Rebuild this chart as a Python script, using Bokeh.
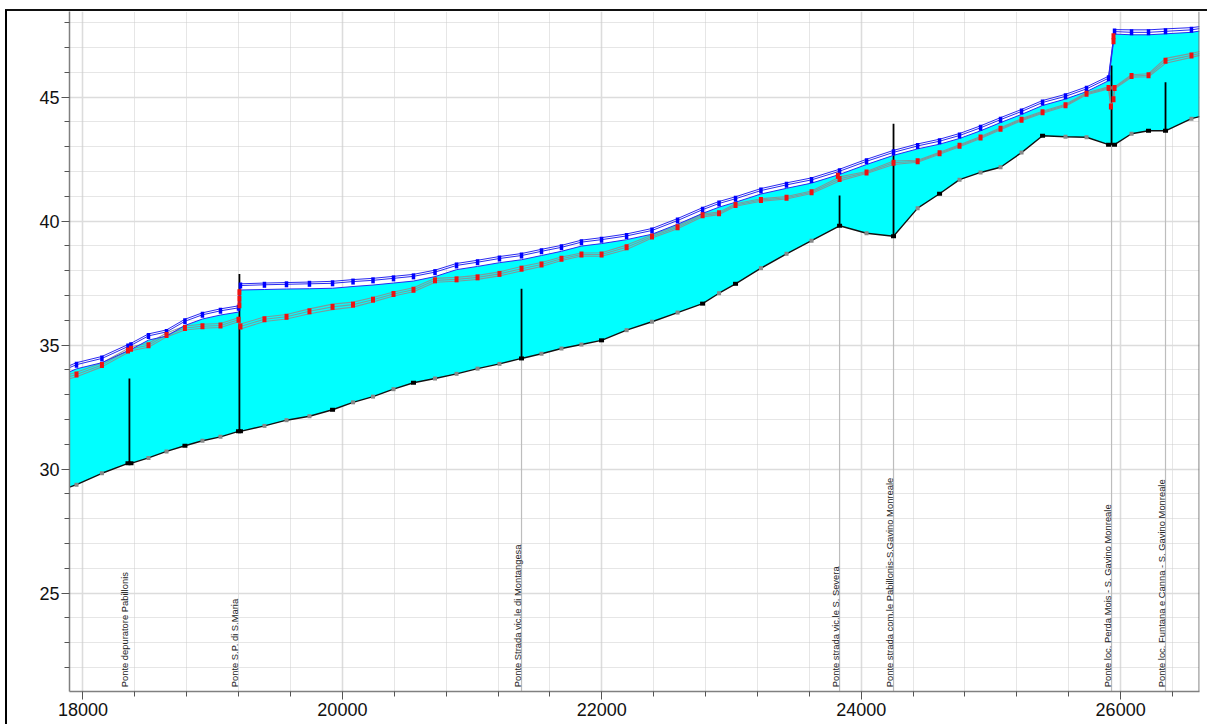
import math
from bokeh.plotting import figure
from bokeh.models import FixedTicker, Range1d, Span
from bokeh.core.properties import value
from bokeh.embed import file_html
from bokeh.resources import INLINE

stations = [17896,17950,18146,18347,18370,18505,18644,18786,18921,19060,19199,19214,19399,19569,19746,19924,20082,20236,20394,20548,20714,20880,21042,21211,21381,21535,21689,21843,21998,22191,22387,22584,22777,22904,23031,23227,23424,23617,23833,24041,24249,24435,24604,24758,24920,25074,25236,25398,25575,25737,25907,25953,26084,26215,26346,26546,26608]
bed = [29.27,29.37,29.83,30.23,30.23,30.45,30.71,30.94,31.14,31.30,31.52,31.52,31.74,31.97,32.13,32.39,32.69,32.92,33.22,33.48,33.65,33.84,34.05,34.24,34.46,34.65,34.86,35.02,35.19,35.60,35.94,36.31,36.67,37.09,37.47,38.10,38.68,39.21,39.81,39.51,39.39,40.52,41.10,41.67,41.96,42.17,42.76,43.44,43.40,43.38,43.08,43.08,43.52,43.64,43.64,44.13,44.21]
blue_mid = [34.09,34.21,34.46,34.94,34.99,35.37,35.53,35.96,36.22,36.38,36.50,37.40,37.43,37.45,37.47,37.49,37.56,37.61,37.69,37.77,37.94,38.21,38.34,38.49,38.61,38.78,38.94,39.15,39.25,39.40,39.62,40.02,40.46,40.71,40.90,41.23,41.46,41.66,42.01,42.41,42.77,43.03,43.22,43.45,43.76,44.09,44.42,44.78,45.03,45.33,45.76,47.64,47.61,47.61,47.65,47.71,47.76]
blue_upper = [34.17,34.29,34.54,35.02,35.07,35.45,35.61,36.04,36.30,36.46,36.58,37.47,37.50,37.52,37.54,37.57,37.64,37.69,37.77,37.85,38.02,38.29,38.42,38.57,38.69,38.86,39.02,39.23,39.33,39.48,39.70,40.10,40.54,40.79,40.98,41.31,41.54,41.74,42.09,42.49,42.85,43.11,43.30,43.53,43.84,44.17,44.50,44.86,45.11,45.41,45.84,47.72,47.71,47.71,47.75,47.80,47.84]
blue_lower = [33.92,34.04,34.29,34.77,34.82,35.20,35.36,35.79,36.05,36.21,36.33,37.22,37.24,37.26,37.27,37.29,37.36,37.42,37.50,37.58,37.76,38.04,38.17,38.32,38.44,38.61,38.78,38.99,39.09,39.25,39.47,39.87,40.31,40.56,40.76,41.09,41.32,41.53,41.88,42.28,42.65,42.91,43.10,43.33,43.64,43.97,44.30,44.66,44.92,45.22,45.66,47.54,47.51,47.51,47.55,47.61,47.66]
red_mid = [33.73,33.81,34.20,34.78,34.85,34.99,35.41,35.69,35.76,35.79,36.02,35.75,36.04,36.14,36.36,36.54,36.63,36.83,37.06,37.23,37.61,37.65,37.73,37.87,38.08,38.25,38.48,38.65,38.65,38.94,39.38,39.75,40.23,40.31,40.65,40.85,40.94,41.16,41.70,41.96,42.35,42.41,42.73,43.04,43.37,43.72,44.09,44.39,44.67,45.13,45.37,45.37,45.85,45.88,46.46,46.68,46.76]
red_upper = [33.82,33.90,34.28,34.86,34.93,35.07,35.49,35.77,35.84,35.87,36.10,35.85,36.13,36.23,36.46,36.65,36.73,36.92,37.14,37.31,37.69,37.73,37.81,37.95,38.17,38.33,38.55,38.71,38.72,39.03,39.44,39.81,40.29,40.36,40.70,40.90,40.99,41.21,41.78,42.00,42.42,42.45,42.77,43.08,43.41,43.76,44.13,44.43,44.71,45.17,45.41,45.41,45.90,45.94,46.56,46.76,46.84]
red_lower = [33.64,33.72,34.12,34.70,34.77,34.91,35.33,35.61,35.68,35.71,35.94,35.65,35.95,36.05,36.26,36.43,36.53,36.74,36.98,37.15,37.53,37.57,37.65,37.79,37.99,38.17,38.41,38.59,38.58,38.85,39.32,39.69,40.17,40.26,40.60,40.80,40.89,41.11,41.62,41.92,42.28,42.37,42.69,43.00,43.33,43.68,44.05,44.35,44.63,45.09,45.33,45.33,45.80,45.82,46.36,46.60,46.68]

# extra red points on the bridge jumps
red_extra_x = [19206,19206,19206,23820,25925,25945,25945,25945]
red_extra_y = [37.13,36.87,36.60,41.83,44.62,44.91,47.25,47.45]
red_dip_x = [25907,25925,25945,25953]
red_dip_y = [45.37,44.62,44.91,45.37]

# stations whose bed marker is black (the rest are grey)
bed_black = [18347,18370,18786,19199,19214,19924,20548,21381,21998,22777,23031,23833,24249,24604,25398,25907,25953,26215,26346]

bridge_x = [18358,19206,21381,23833,24249,25930,26346]
bridge_bed = [30.23,31.52,34.46,39.81,39.39,43.08,43.64]
bridge_top = [33.65,37.87,37.27,41.03,43.92,46.27,45.60]
bridge_names = ["Ponte depuratore Pabillonis","Ponte S.P. di S.Maria","Ponte Strada vic.le di Montangesa","Ponte strada vic.le S. Severa","Ponte strada com.le Pabillonis-S.Gavino Monreale","Ponte loc. Perda Mois - S. Gavino Monreale","Ponte loc. Funtana e Canna - S. Gavino Monreale"]

x_major = [18000,20000,22000,24000,26000]
x_minor = [18400,18800,19200,19600,20400,20800,21200,21600,22400,22800,23200,23600,24400,24800,25200,25600,26400]
y_major = [25,30,35,40,45]
y_minor = [22,23,24,26,27,28,29,31,32,33,34,36,37,38,39,41,42,43,44,46,47,48]

X0, X1, Y0, Y1 = 17896, 26608, 21.03, 48.45
FONT = "Liberation Sans"

frame_css = ("linear-gradient(#000,#000) 5px 10px / 2px 714px no-repeat, "
             "linear-gradient(#111,#111) 5px 9px / 1202px 2px no-repeat")

p = figure(width=1207, height=724, output_backend="svg", toolbar_location=None,
           x_range=Range1d(X0, X1), y_range=Range1d(Y0, Y1),
           min_border_left=69, min_border_right=8, min_border_top=11, min_border_bottom=33,
           background_fill_color="white", border_fill_color=None,
           outline_line_color=None, styles={"background": frame_css})
p.toolbar.logo = None

for ax, maj, mnr in ((p.xaxis[0], x_major, x_minor), (p.yaxis[0], y_major, y_minor)):
    ax.ticker = FixedTicker(ticks=maj, minor_ticks=mnr)
    ax.axis_line_color = "#808080"
    ax.axis_line_width = 1.5
    ax.major_tick_line_color = "#555555"
    ax.minor_tick_line_color = "#555555"
    ax.major_tick_out = 8
    ax.major_tick_in = 0
    ax.minor_tick_out = 5
    ax.minor_tick_in = 0
    ax.major_label_text_font = FONT
    ax.major_label_text_font_size = "18px"
    ax.major_label_text_color = "#111111"
    ax.major_label_standoff = 3
p.xaxis[0].formatter.use_scientific = False
p.yaxis[0].major_label_orientation = "horizontal"
p.yaxis[0].major_label_standoff = 2

for g, maj, mnr in ((p.xgrid[0], x_major, x_minor), (p.ygrid[0], y_major, y_minor)):
    g.ticker = FixedTicker(ticks=maj, minor_ticks=mnr)
    g.grid_line_color = "#dcdcdc"
    g.grid_line_width = 1.6
    g.minor_grid_line_color = "#cccccc"
    g.minor_grid_line_width = 1
    g.minor_grid_line_dash = "1 1"

p.add_layout(Span(location=X1 - 3, dimension="height", line_color="#707070", line_width=1.2))

# water body
p.varea(x=stations, y1=bed, y2=blue_lower, fill_color="#00FFFF")

# bridge lines
p.segment(x0=bridge_x[2:], y0=[Y0] * 5, x1=bridge_x[2:], y1=bridge_bed[2:], line_color="#bdbdbd", line_width=1.2)
p.segment(x0=bridge_x, y0=bridge_bed, x1=bridge_x, y1=bridge_top, line_color="#000000", line_width=1.8)

# red-profile envelope
for series in (red_upper, red_mid, red_lower):
    p.line(stations, series, line_color="#8c8c8c", line_width=1.1, line_alpha=0.85)
p.line(red_dip_x, red_dip_y, line_color="#8c8c8c", line_width=1.5)

# blue-profile envelope
for series in (blue_upper, blue_mid, blue_lower):
    p.line(stations, series, line_color="#2a2af0", line_width=1)

# bed
p.line(stations, bed, line_color="#111111", line_width=1.4)
grey_x = [s for s, b in zip(stations[1:-1], bed[1:-1]) if s not in bed_black]
grey_y = [b for s, b in zip(stations[1:-1], bed[1:-1]) if s not in bed_black]
black_x = [s for s, b in zip(stations, bed) if s in bed_black]
black_y = [b for s, b in zip(stations, bed) if s in bed_black]
p.rect(grey_x, grey_y, width=4, height=4, width_units="screen", height_units="screen", fill_color="#888888", line_color=None)
p.rect(black_x, black_y, width=5, height=4, width_units="screen", height_units="screen", fill_color="#000000", line_color=None)

# markers
p.rect(stations[1:-1], blue_mid[1:-1], width=3.5, height=6, width_units="screen", height_units="screen", fill_color="#0000ff", line_color=None)
p.rect(stations[1:-1], red_mid[1:-1], width=4, height=6, width_units="screen", height_units="screen", fill_color="#ee1111", line_color=None)
p.rect(red_extra_x, red_extra_y, width=4, height=6, width_units="screen", height_units="screen", fill_color="#ee1111", line_color=None)

# bridge names
p.text(x=bridge_x, y=[21.2] * len(bridge_x), text=bridge_names, angle=math.pi / 2, text_align="left",
       text_baseline="bottom", x_offset=1, text_font=value(FONT), text_font_size="9.4px", text_color="#222222")

open("out.html", "w").write(file_html(p, INLINE))
